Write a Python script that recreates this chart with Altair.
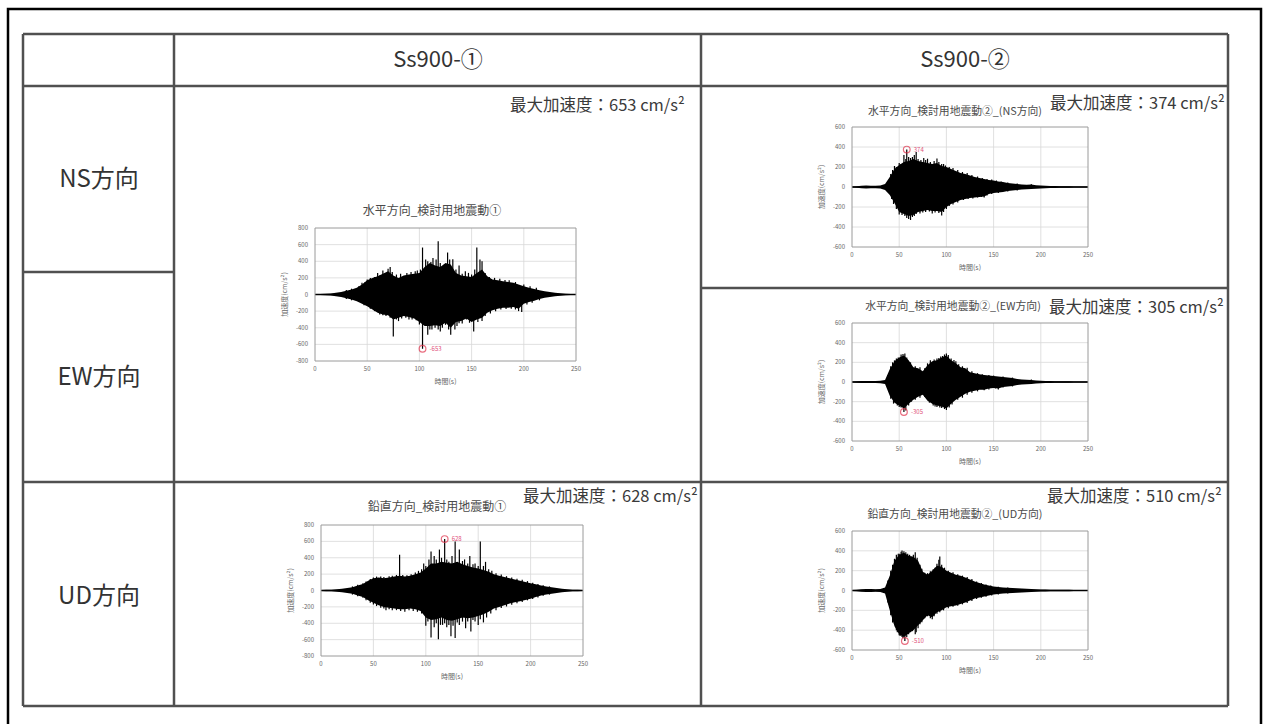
import altair as alt
import pandas as pd

W, H = 1264, 724
FONT = "Noto Sans CJK JP"

# ---------------- table text ----------------
col_headers = ["Ss900-①", "Ss900-②"]
row_labels = ["NS方向", "EW方向", "UD方向"]
peak_texts = ["最大加速度：653 cm/s²", "最大加速度：374 cm/s²", "最大加速度：305 cm/s²",
              "最大加速度：628 cm/s²", "最大加速度：510 cm/s²"]
plot_titles = ["水平方向_検討用地震動①", "水平方向_検討用地震動②_(NS方向)",
               "水平方向_検討用地震動②_(EW方向)", "鉛直方向_検討用地震動①",
               "鉛直方向_検討用地震動②_(UD方向)"]
x_title = "時間(s)"
y_title = "加速度(cm/s²)"
x_ticks = [0, 50, 100, 150, 200, 250]

# ---------------- waveform envelopes (every 5 s, 0..250 s) ----------------
T = list(range(0, 251, 5))

A_upper = [3, 5, 8, 12, 20, 30, 45, 60, 80, 120, 170, 200, 220, 250, 280, 230, 200, 230, 240, 250,
           260, 330, 380, 350, 330, 380, 360, 260, 230, 220, 210, 260, 300, 220, 180, 170, 160, 150,
           140, 120, 100, 80, 65, 50, 40, 30, 22, 15, 10, 7, 5]
A_lower = [-3, -5, -8, -12, -20, -30, -45, -60, -80, -110, -140, -180, -220, -240, -250, -300, -280,
           -260, -270, -290, -330, -380, -380, -370, -380, -340, -400, -330, -320, -290, -330, -300,
           -280, -220, -190, -170, -160, -160, -150, -170, -110, -90, -75, -55, -40, -30, -22, -15,
           -10, -7, -5]
A_spike_t = [50, 62, 70, 74, 88, 96, 103, 106, 108, 113, 118, 122, 127, 132, 138, 147, 155, 158, 160,
             30, 35, 42, 45, 48, 53, 57, 60, 65, 67, 72, 78, 82, 85, 92, 98, 101, 111, 116, 120, 124,
             129, 135, 141, 144, 150, 153, 163, 167, 172, 177, 182, 186, 192, 200, 206, 212,
             62, 68, 75, 80, 90, 103, 108, 112, 115, 120, 125, 130, 134, 138, 145, 152, 160, 195, 198,
             30, 35, 42, 47, 53, 57, 65, 72, 78, 83, 87, 93, 97, 100, 110, 118, 122, 128, 136, 141,
             148, 156, 163, 168, 173, 178, 183, 188, 192, 203, 208, 215]
A_spike_v = [180, 230, 310, 270, 260, 280, 565, 420, 400, 440, 640, 340, 505, 425, 350, 260, 565, 420, 400,
             55, 70, 100, 140, 150, 200, 210, 260, 290, 240, 330, 240, 250, 220, 270, 290, 300, 390, 420,
             380, 360, 420, 300, 250, 280, 240, 300, 260, 210, 200, 190, 175, 170, 150, 120, 100, 80,
             -240, -260, -505, -320, -300, -653, -485, -420, -400, -445, -365, -485, -420, -345, -300,
             -445, -320, -200, -210,
             -55, -70, -90, -130, -170, -200, -250, -280, -300, -290, -280, -300, -310, -360, -420, -420,
             -400, -420, -380, -350, -340, -330, -260, -230, -200, -180, -175, -170, -180, -120, -100, -70]

B_upper = [5, 8, 12, 15, 12, 12, 15, 30, 100, 180, 220, 250, 260, 280, 260, 250, 240, 230, 240, 210,
           200, 180, 160, 140, 130, 115, 100, 90, 80, 70, 65, 55, 50, 40, 35, 30, 25, 22, 25, 18, 15,
           12, 10, 10, 8, 8, 7, 6, 6, 5, 5]
B_lower = [-5, -8, -12, -15, -12, -12, -15, -30, -80, -160, -250, -270, -290, -280, -250, -240, -230,
           -240, -240, -250, -200, -170, -150, -130, -120, -110, -105, -100, -95, -70, -60, -55, -50,
           -40, -35, -30, -25, -22, -20, -18, -14, -12, -10, -10, -8, -8, -7, -6, -6, -5, -5]
B_spike_t = [45, 50, 55, 58, 62, 68, 76, 80, 90, 97,
             38, 41, 43, 47, 52, 57, 60, 64, 66, 70, 73, 78, 83, 87, 92, 95, 99, 103, 107, 112, 117,
             122, 127, 133, 138, 143, 148, 153, 158, 165, 175, 190,
             50, 58, 62, 66, 85, 95, 100, 140,
             38, 42, 44, 47, 53, 56, 60, 64, 68, 72, 75, 78, 82, 88, 92, 97, 103, 107, 112, 118, 123,
             128, 133, 137, 143, 148, 155, 165, 175]
B_spike_v = [210, 240, 320, 374, 290, 350, 290, 283, 285, 230,
             60, 130, 170, 200, 230, 280, 300, 300, 320, 280, 270, 270, 250, 260, 250, 230, 215, 200,
             190, 170, 150, 140, 120, 105, 90, 80, 75, 65, 55, 45, 35, 28,
             -275, -310, -330, -290, -265, -285, -220, -105,
             -50, -120, -170, -220, -280, -290, -320, -300, -270, -265, -255, -250, -245, -255, -260,
             -250, -190, -175, -155, -130, -120, -115, -105, -100, -85, -70, -60, -45, -35]

C_upper = [5, 8, 10, 10, 10, 10, 12, 20, 130, 210, 250, 270, 220, 150, 140, 110, 170, 210, 220, 250,
           270, 220, 190, 150, 140, 100, 90, 80, 70, 65, 60, 55, 50, 45, 40, 30, 25, 22, 20, 15, 12,
           10, 10, 8, 8, 8, 7, 6, 6, 5, 5]
C_lower = [-5, -8, -10, -10, -10, -10, -12, -20, -140, -210, -240, -270, -220, -180, -150, -130, -190,
           -220, -240, -250, -270, -220, -180, -150, -120, -100, -90, -80, -80, -65, -60, -65, -50, -45,
           -40, -30, -25, -22, -20, -15, -12, -10, -10, -8, -8, -8, -7, -6, -6, -5, -5]
C_spike_t = [47, 52, 56, 92, 96, 100, 108,
             38, 41, 43, 45, 49, 54, 58, 62, 67, 72, 77, 80, 83, 87, 90, 94, 98, 102, 105, 110, 113,
             117, 122, 127, 133, 138, 145, 150, 160, 170, 190,
             52, 55, 90, 95, 100, 155,
             38, 41, 44, 48, 50, 57, 60, 63, 67, 72, 77, 82, 86, 88, 93, 98, 103, 106, 112, 117, 122,
             127, 133, 140, 145, 152, 160, 170]
C_spike_v = [240, 280, 290, 245, 265, 290, 225,
             70, 160, 200, 220, 250, 285, 250, 200, 160, 150, 140, 190, 220, 230, 240, 260, 280, 275,
             240, 210, 180, 160, 145, 110, 90, 80, 70, 65, 55, 45, 25,
             -260, -305, -255, -265, -285, -75,
             -70, -170, -220, -240, -255, -290, -240, -200, -180, -160, -150, -210, -240, -250, -260,
             -275, -260, -230, -180, -160, -130, -110, -95, -85, -75, -65, -55, -45]

D_upper = [5, 8, 10, 15, 20, 30, 40, 60, 80, 120, 150, 160, 150, 160, 170, 180, 170, 180, 200, 220,
           270, 330, 330, 350, 340, 330, 350, 320, 300, 280, 270, 250, 230, 200, 180, 165, 150, 135,
           120, 105, 90, 75, 60, 50, 40, 30, 20, 15, 10, 8, 5]
D_lower = [-5, -8, -10, -15, -20, -30, -40, -60, -80, -120, -150, -180, -200, -210, -220, -230, -230,
           -220, -230, -250, -330, -360, -350, -330, -360, -370, -350, -330, -340, -330, -310, -290,
           -260, -220, -200, -180, -160, -145, -130, -115, -100, -80, -60, -50, -40, -30, -20, -15,
           -10, -8, -5]
D_spike_t = [75, 98, 100, 105, 108, 110, 113, 118, 122, 128, 132, 137, 142, 147, 152, 157,
             30, 35, 40, 43, 47, 50, 53, 57, 60, 65, 68, 72, 78, 82, 86, 90, 93, 96, 103, 115, 120,
             125, 135, 140, 145, 150, 155, 160, 163, 167, 172, 177, 182, 187, 192, 197, 202, 207, 212, 218,
             62, 80, 100, 105, 108, 112, 116, 120, 124, 128, 132, 138, 143, 147, 150, 155,
             30, 35, 40, 43, 47, 50, 53, 57, 60, 65, 68, 72, 76, 84, 88, 92, 96, 102, 110, 114, 118,
             122, 126, 130, 135, 140, 145, 152, 158, 162, 167, 172, 177, 182, 187, 192, 197, 202, 207,
             212, 218]
D_spike_v = [436, 330, 300, 476, 420, 380, 500, 628, 350, 598, 500, 380, 420, 330, 600, 350,
             50, 70, 90, 110, 140, 160, 170, 170, 165, 175, 180, 190, 190, 185, 200, 220, 240, 260,
             380, 400, 380, 420, 360, 330, 320, 300, 300, 260, 240, 210, 195, 175, 160, 145, 130, 115,
             95, 80, 65, 50,
             -240, -260, -432, -574, -450, -595, -420, -450, -560, -580, -420, -460, -500, -380, -420, -390,
             -50, -70, -90, -120, -150, -170, -190, -210, -220, -230, -240, -240, -250, -240, -250, -260,
             -280, -380, -400, -420, -400, -420, -430, -390, -380, -380, -360, -350, -330, -280, -240,
             -215, -195, -175, -155, -140, -120, -105, -85, -65, -50]

E_upper = [5, 8, 12, 15, 15, 12, 15, 30, 150, 300, 360, 380, 350, 340, 300, 190, 160, 200, 250, 240,
           200, 180, 160, 150, 130, 110, 90, 75, 60, 50, 40, 35, 30, 28, 25, 22, 20, 18, 15, 12, 10,
           10, 8, 8, 8, 7, 7, 6, 6, 5, 5]
E_lower = [-5, -8, -12, -15, -15, -12, -15, -30, -200, -360, -440, -470, -430, -400, -350, -300, -250,
           -270, -220, -200, -170, -160, -150, -135, -120, -100, -80, -70, -60, -50, -40, -35, -30, -28,
           -25, -22, -20, -18, -15, -12, -10, -10, -8, -8, -8, -7, -7, -6, -6, -5, -5]
E_spike_t = [47, 50, 53, 57, 63, 67, 88, 92, 93,
             38, 41, 43, 45, 49, 52, 55, 59, 61, 65, 69, 72, 74, 77, 80, 83, 86, 90, 95, 98, 102, 107,
             112, 117, 122, 127, 132, 137, 142, 147, 155, 165,
             43, 47, 50, 53, 56, 60, 67, 70, 85,
             38, 41, 45, 48, 51, 54, 58, 62, 64, 68, 72, 74, 77, 80, 83, 87, 90, 93, 97, 102, 107, 112,
             117, 122, 127, 132, 137, 142, 148, 155, 165]
E_spike_v = [360, 370, 403, 385, 340, 385, 230, 310, 343,
             100, 200, 260, 320, 370, 390, 395, 370, 360, 360, 330, 260, 220, 180, 175, 195, 215, 270,
             260, 230, 200, 185, 165, 150, 135, 115, 90, 75, 60, 50, 38, 30,
             -323, -400, -450, -470, -510, -440, -440, -380, -290,
             -120, -250, -340, -420, -460, -480, -470, -420, -410, -420, -340, -320, -280, -260, -280,
             -260, -235, -220, -200, -180, -165, -155, -140, -125, -105, -85, -72, -62, -50, -40, -30]

peak_t = [103, 58, 55, 118, 56]
peak_v = [-653, 374, -305, 628, -510]
peak_labels = ["-653", "374", "-305", "628", "-510"]
amax_list = [800, 600, 600, 800, 600]

# ---------------- layout (pixels) ----------------
table_lines = [  # x1, y1, x2, y2
    (23, 34, 1228, 34), (23, 86, 1228, 86), (23, 482, 1228, 482), (23, 706, 1228, 706),
    (23, 34, 23, 706), (174, 34, 174, 706), (701, 34, 701, 706), (1228, 34, 1228, 706),
    (23, 272, 174, 272), (701, 288, 1228, 288),
]
header_pos = [(438, 60), (965, 60)]
row_pos = [(99, 180), (99, 378), (99, 597)]
peak_text_pos = [(510, 106), (1050, 104), (1049, 308), (523, 497), (1047, 497)]
plot_boxes = [  # left, right, top, bottom
    (315, 576, 228, 361), (852, 1088, 127, 247), (852, 1088, 323, 441),
    (321, 583, 525, 656), (852, 1088, 531, 650),
]
title_pos = [(432, 211), (955, 112), (953, 307), (437, 507), (955, 515)]
title_font = [12, 10.8, 10.8, 12, 10.8]

# ---------------- table layer ----------------
pxs = alt.Scale(domain=[0, W], nice=False, zero=False)
pys = alt.Scale(domain=[0, H], reverse=True, nice=False, zero=False)


def PX(f):
    return alt.X(f, type="quantitative", scale=pxs, axis=None)


def PY(f):
    return alt.Y(f, type="quantitative", scale=pys, axis=None)


lines_df = pd.DataFrame(table_lines, columns=["x", "y", "x2", "y2"])
outer_df = pd.DataFrame([{"x": 8, "y": 9, "x2": 1261, "y2": 740}])
head_df = pd.DataFrame({"x": [p[0] for p in header_pos], "y": [p[1] for p in header_pos], "t": col_headers})
row_df = pd.DataFrame({"x": [p[0] for p in row_pos], "y": [p[1] for p in row_pos], "t": row_labels})
pk_df = pd.DataFrame({"x": [p[0] for p in peak_text_pos], "y": [p[1] for p in peak_text_pos], "t": peak_texts})

outer = alt.Chart(outer_df).mark_rect(fillOpacity=0, stroke="black", strokeWidth=2.5).encode(
    x=PX("x"), x2="x2", y=PY("y"), y2="y2")
grid = alt.Chart(lines_df).mark_rule(color="#505050", strokeWidth=2.5).encode(
    x=PX("x"), x2="x2", y=PY("y"), y2="y2")
heads = alt.Chart(head_df).mark_text(font=FONT, fontSize=22, color="#333333", baseline="middle").encode(
    x=PX("x"), y=PY("y"), text="t:N")
rows = alt.Chart(row_df).mark_text(font=FONT, fontSize=24, color="#333333", baseline="middle").encode(
    x=PX("x"), y=PY("y"), text="t:N")
pks = alt.Chart(pk_df).mark_text(font=FONT, fontSize=16.5, color="#3a3a3a", baseline="middle", align="left").encode(
    x=PX("x"), y=PY("y"), text="t:N")
table_layer = alt.layer(outer, grid, heads, rows, pks)

# ---------------- mini plots ----------------
waves = [
    (A_upper, A_lower, A_spike_t, A_spike_v),
    (B_upper, B_lower, B_spike_t, B_spike_v),
    (C_upper, C_lower, C_spike_t, C_spike_v),
    (D_upper, D_lower, D_spike_t, D_spike_v),
    (E_upper, E_lower, E_spike_t, E_spike_v),
]


def mini_plot(i):
    left, right, top, bottom = plot_boxes[i]
    amax = amax_list[i]
    up, lo, st, sv = waves[i]
    kx = 250 / (right - left)
    xlo = -left * kx
    xhi = xlo + W * kx
    ky = 2 * amax / (bottom - top)
    yhi = amax + top * ky
    ylo = yhi - H * ky
    xs = alt.Scale(domain=[xlo, xhi], nice=False, zero=False)
    ys = alt.Scale(domain=[ylo, yhi], nice=False, zero=False)

    def X(f="t"):
        return alt.X(f, type="quantitative", scale=xs, axis=None)

    def Y(f="a"):
        return alt.Y(f, type="quantitative", scale=ys, axis=None)

    yt = list(range(-amax, amax + 1, 200))
    vg = pd.DataFrame({"t": x_ticks[1:-1], "a": -amax, "a2": amax})
    hg = pd.DataFrame({"t": 0, "t2": 250, "a": yt[1:-1]})
    env = pd.DataFrame({"t": T, "hi": up, "lo": lo})
    sp = pd.DataFrame({"t": st, "a": sv, "z": 0})
    base = pd.DataFrame([{"t": 0, "t2": 250, "a": 0}])
    box = pd.DataFrame([{"t": 0, "t2": 250, "a": -amax, "a2": amax}])
    xl = pd.DataFrame({"t": x_ticks, "a": -amax, "s": [str(v) for v in x_ticks]})
    yl = pd.DataFrame({"t": 0, "a": yt, "s": [str(v) for v in yt]})
    tx, ty = title_pos[i]
    ttl = pd.DataFrame([{"t": xlo + tx * kx, "a": yhi - ty * ky, "s": plot_titles[i]}])
    xtt = pd.DataFrame([{"t": 125, "a": -amax, "s": x_title}])
    ytt = pd.DataFrame([{"t": -30 * kx, "a": 0, "s": y_title}])
    pk = pd.DataFrame([{"t": peak_t[i], "a": peak_v[i], "s": peak_labels[i]}])

    layers = [
        alt.Chart(vg).mark_rule(color="#d8d8d8", strokeWidth=0.8).encode(x=X(), y=Y(), y2="a2"),
        alt.Chart(hg).mark_rule(color="#d8d8d8", strokeWidth=0.8).encode(x=X(), x2="t2", y=Y()),
        alt.Chart(env).mark_area(color="black", interpolate="linear").encode(x=X(), y=Y("hi"), y2="lo"),
        alt.Chart(sp).mark_rule(color="black", strokeWidth=1.2).encode(x=X(), y=Y(), y2="z"),
        alt.Chart(base).mark_rule(color="black", strokeWidth=1.6).encode(x=X(), x2="t2", y=Y()),
        alt.Chart(box).mark_rect(fillOpacity=0, stroke="#9a9a9a", strokeWidth=1).encode(
            x=X(), x2="t2", y=Y(), y2="a2"),
        alt.Chart(xl).mark_text(font=FONT, fontSize=6, color="#666666", baseline="top", dy=5).encode(
            x=X(), y=Y(), text="s:N"),
        alt.Chart(yl).mark_text(font=FONT, fontSize=6, color="#666666", align="right", baseline="middle", dx=-7).encode(
            x=X(), y=Y(), text="s:N"),
        alt.Chart(ttl).mark_text(font=FONT, fontSize=title_font[i], color="#4a4a4a", baseline="middle").encode(
            x=X(), y=Y(), text="s:N"),
        alt.Chart(xtt).mark_text(font=FONT, fontSize=7, color="#666666", baseline="top", dy=17).encode(
            x=X(), y=Y(), text="s:N"),
        alt.Chart(ytt).mark_text(font=FONT, fontSize=7, color="#666666", angle=270, baseline="middle").encode(
            x=X(), y=Y(), text="s:N"),
        alt.Chart(pk).mark_point(shape="circle", filled=False, color="#e0304a", size=45, strokeWidth=1.2).encode(
            x=X(), y=Y()),
        alt.Chart(pk).mark_text(font=FONT, fontSize=6, color="#e0507a", align="left", dx=7).encode(
            x=X(), y=Y(), text="s:N"),
    ]
    return alt.layer(*layers)


chart = alt.layer(table_layer, *[mini_plot(i) for i in range(5)]).resolve_scale(
    x="independent", y="independent"
).properties(
    width=W, height=H, padding=0, autosize=alt.AutoSizeParams(type="none"), background="white"
).configure_view(stroke=None)

chart.save("out.html", embed_options={"renderer": "svg", "actions": False})
